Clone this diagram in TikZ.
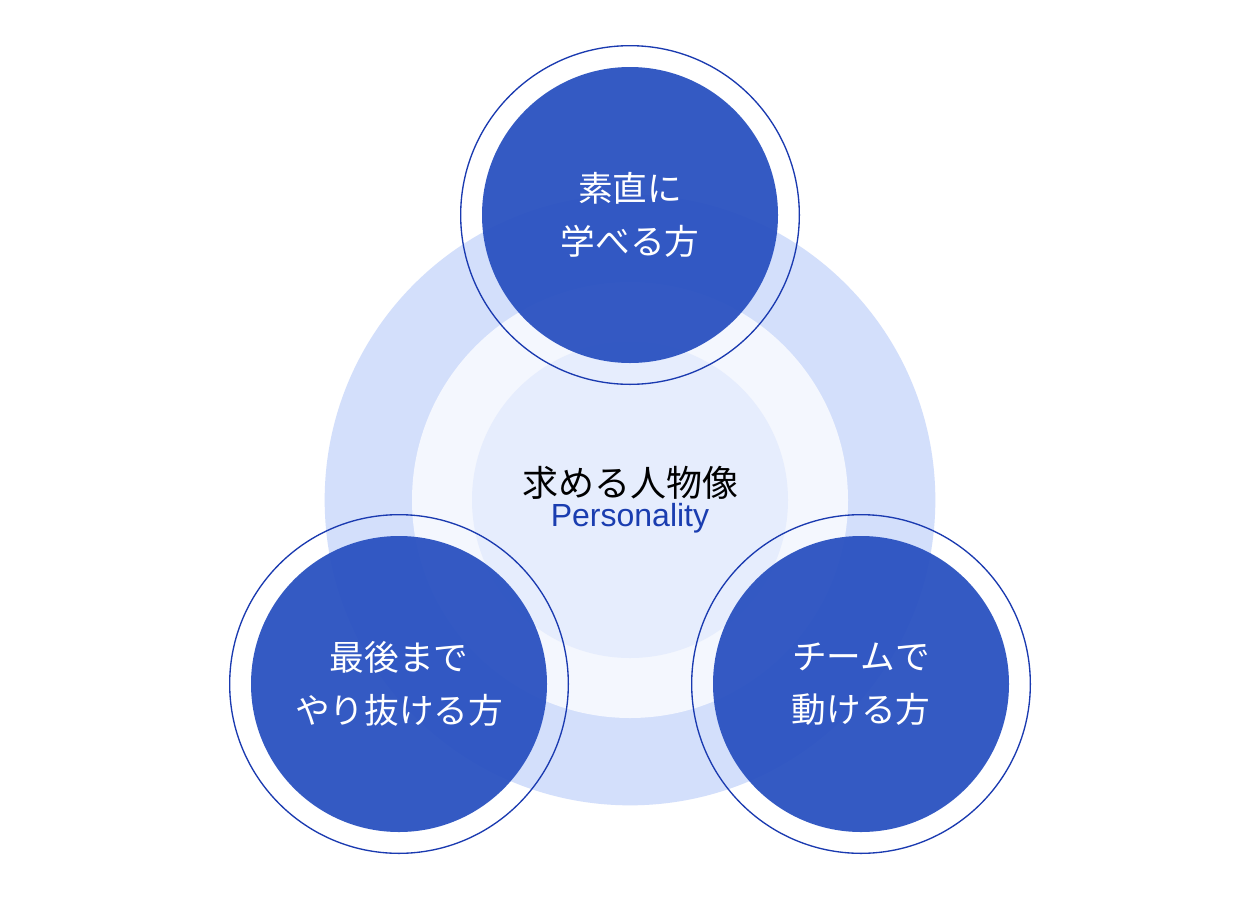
\documentclass[tikz,border=0pt]{standalone}
\usepackage{fontspec}
\newfontfamily\cjk{Noto Sans CJK JP}
\setsansfont{Liberation Sans}
\definecolor{ringA}{HTML}{D3DFFB}
\definecolor{ringB}{HTML}{F4F7FE}
\definecolor{ringC}{HTML}{E6EDFD}
\definecolor{bluefill}{HTML}{2850C0}
\definecolor{blueline}{HTML}{1A3AB0}
\definecolor{ptext}{HTML}{1A3DB0}
\begin{document}
\begin{tikzpicture}[x=0.75pt,y=-0.75pt,
  bub/.style={circle,fill=bluefill,fill opacity=0.94,text opacity=1,minimum size=222pt,inner sep=0pt,text=white,align=center,font=\cjk\fontsize{26}{40}\selectfont},
  ring/.style={draw=blueline,line width=1pt}]
\useasboundingbox (0,0) rectangle (1260,900);
\fill[white] (0,0) rectangle (1260,900);
\fill[ringA] (630,500) circle (229pt);
\fill[ringB] (630,500) circle (163.5pt);
\fill[ringC] (630,500) circle (118.5pt);
\node (c) at (630,500) [align=center] {{\cjk\fontsize{27}{34}\selectfont 求める人物像}\\[2pt]{\sffamily\color{ptext}\fontsize{24}{30}\selectfont Personality}};
\node[bub] (t) at (630,215) {素直に\\学べる方};
\node[bub] (l) at (399,684) {最後まで\\やり抜ける方};
\node[bub] (r) at (861,684) {チームで\\動ける方};
\foreach \n in {t,l,r} \draw[ring] (\n.center) circle (127pt);
\end{tikzpicture}
\end{document}
